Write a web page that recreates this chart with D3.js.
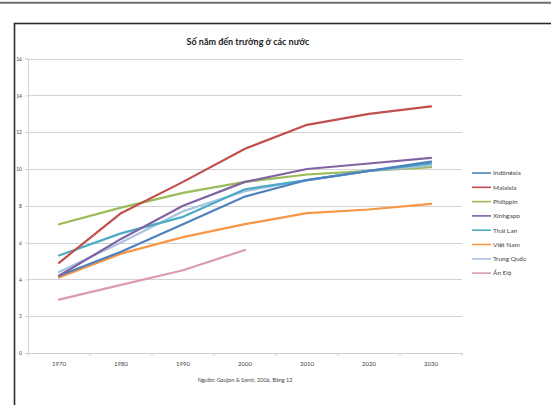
<!DOCTYPE html>
<html>
<head>
<meta charset="utf-8">
<script src="https://cdn.jsdelivr.net/npm/d3@7/dist/d3.min.js"></script>
<style>
  html, body { margin: 0; padding: 0; background: #fff; }
  svg { display: block; }
</style>
</head>
<body>
<svg id="chart" width="551" height="405"></svg>
<script>
// Years of schooling by country, historical and projected
const years = ["1970", "1980", "1990", "2000", "2010", "2020", "2030"];
const yTicks = [0, 2, 4, 6, 8, 10, 12, 14, 16];

const countries = ["Indônêxia", "Malaixia", "Philippin", "Xinhgapo", "Thái Lan", "Việt Nam", "Trung Quốc", "Ấn Độ"];
const indonesia = [4.2, 5.5, 7.0, 8.5, 9.4, 9.9, 10.4];
const malaysia  = [4.9, 7.6, 9.3, 11.1, 12.4, 13.0, 13.4];
const philippines = [7.0, 7.9, 8.7, 9.3, 9.7, 9.9, 10.1];
const singapore = [4.2, 6.2, 8.0, 9.3, 10.0, 10.3, 10.6];
const thailand  = [5.3, 6.5, 7.4, 8.9, 9.4, 9.9, 10.3];
const vietnam   = [4.1, 5.4, 6.3, 7.0, 7.6, 7.8, 8.1];
const china     = [4.4, 6.0, 7.7, 8.8, 9.4, 9.9, 10.2];
const india     = [2.9, 3.7, 4.5, 5.6, null, null, null];

const seriesValues = [indonesia, malaysia, philippines, singapore, thailand, vietnam, china, india];
const colors = ["#4F81BD", "#C0504D", "#9BBB59", "#8064A2", "#4BACC6", "#F79646", "#A9C1E2", "#DC9AB4"];

const title = "Số năm đến trường ở các nước";
const source = "Nguồn: Goujon & Samir, 2006, Bảng 12";

const svg = d3.select("#chart");
const font = "Lato, 'Open Sans', sans-serif";

// Page frame
svg.append("line").attr("x1", 0).attr("x2", 551).attr("y1", 2.8).attr("y2", 2.8)
  .attr("stroke", "#6e6e6e").attr("stroke-width", 2);
svg.append("rect").attr("x", 14.5).attr("y", 23.5).attr("width", 560).attr("height", 400)
  .attr("fill", "#fff").attr("stroke", "#2b2b2b").attr("stroke-width", 1.6);

const plotLeft = 28, plotRight = 462, plotTop = 58.6, plotBottom = 353;

const x = d3.scaleBand().domain(years).range([plotLeft, plotRight]).paddingInner(0).paddingOuter(0);
const y = d3.scaleLinear().domain([0, 16]).range([plotBottom, plotTop]);
const cx = d => x(d) + x.bandwidth() / 2;

// Horizontal gridlines
svg.append("g").selectAll("line").data(yTicks.filter(t => t > 0)).join("line")
  .attr("x1", plotLeft).attr("x2", plotRight)
  .attr("y1", d => Math.round(y(d)) + 0.5).attr("y2", d => Math.round(y(d)) + 0.5)
  .attr("stroke", "#d2d2d2").attr("stroke-width", 1);

// Y axis
const yAxis = svg.append("g").attr("transform", `translate(${plotLeft},0)`)
  .call(d3.axisLeft(y).tickValues(yTicks).tickSize(3).tickPadding(3));
yAxis.select(".domain").attr("stroke", "#d2d2d2");
yAxis.selectAll(".tick line").attr("stroke", "#d2d2d2");
yAxis.selectAll("text").attr("font-family", font).attr("font-size", 5).attr("fill", "#444");

// X axis with ticks on category boundaries
const xAxis = svg.append("g").attr("transform", `translate(0,${plotBottom})`)
  .call(d3.axisBottom(x).tickSize(0).tickPadding(9));
xAxis.select(".domain").attr("stroke", "#cfcfcf").attr("stroke-width", 1.2);
xAxis.selectAll("text").attr("font-family", font).attr("font-size", 6).attr("fill", "#444");
const bounds = years.map(d => x(d)).concat([plotRight]);
svg.append("g").selectAll("line").data(bounds).join("line")
  .attr("x1", d => d).attr("x2", d => d)
  .attr("y1", plotBottom).attr("y2", plotBottom + 3)
  .attr("stroke", "#cfcfcf");

// Series lines
const line = d3.line()
  .defined(d => d.v !== null)
  .x(d => cx(d.year)).y(d => y(d.v));

const order = [7, 5, 2, 6, 4, 0, 3, 1];
svg.append("g").selectAll("path").data(order).join("path")
  .attr("d", i => line(years.map((yr, k) => ({ year: yr, v: seriesValues[i][k] }))))
  .attr("fill", "none")
  .attr("stroke", i => colors[i])
  .attr("stroke-width", 2.2)
  .attr("stroke-linejoin", "round")
  .attr("stroke-linecap", "round");

// Title
svg.append("text").attr("x", 248).attr("y", 45).attr("text-anchor", "middle")
  .attr("font-family", font).attr("font-weight", "bold").attr("font-size", 9)
  .attr("fill", "#222").text(title);

// Source note
svg.append("text").attr("x", 245).attr("y", 382).attr("text-anchor", "middle")
  .attr("font-family", font).attr("font-size", 5.5).attr("fill", "#444").text(source);

// Legend
const legend = svg.append("g").selectAll("g").data(countries).join("g")
  .attr("transform", (d, i) => `translate(472,${173 + i * 14.3})`);
legend.append("line").attr("x1", 0).attr("x2", 19).attr("y1", 0).attr("y2", 0)
  .attr("stroke", (d, i) => colors[i]).attr("stroke-width", 1.6);
legend.append("text").attr("x", 21).attr("y", 2.3)
  .attr("font-family", font).attr("font-size", 6.5).attr("fill", "#444").text(d => d);
</script>
</body>
</html>
